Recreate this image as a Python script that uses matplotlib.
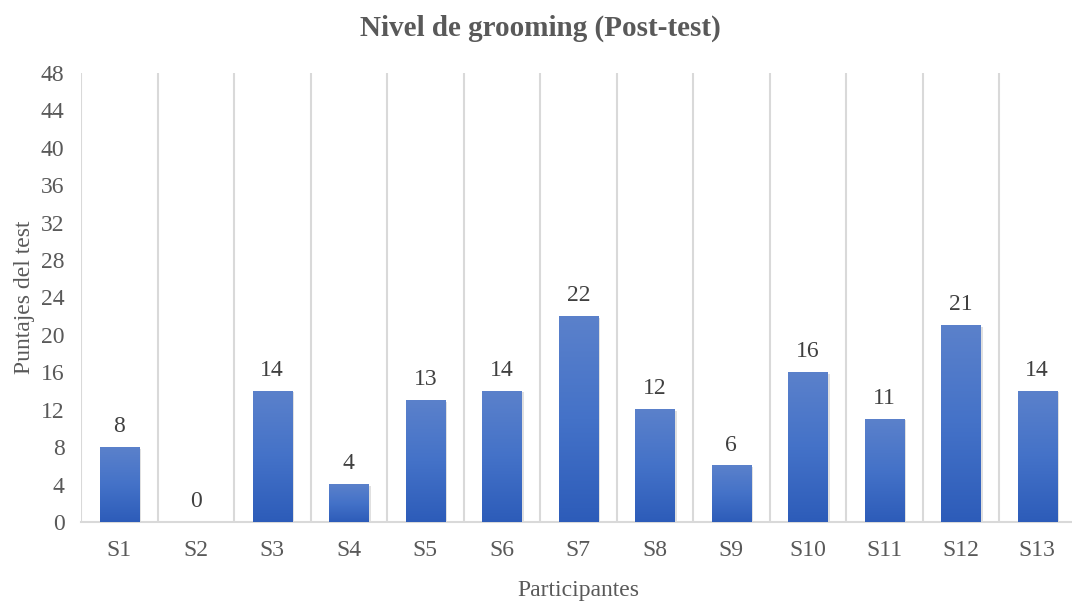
import numpy as np
import matplotlib.pyplot as plt
from matplotlib.colors import LinearSegmentedColormap

participantes = ["S1", "S2", "S3", "S4", "S5", "S6", "S7", "S8", "S9", "S10", "S11", "S12", "S13"]
puntajes = [8, 0, 14, 4, 13, 14, 22, 12, 6, 16, 11, 21, 14]
yticks = list(range(0, 49, 4))

plt.rcParams['font.family'] = ['Liberation Serif', 'DejaVu Serif']

fig = plt.figure(figsize=(10.72, 6.01), dpi=100)
ax = fig.add_axes([0.0756, 0.1315, 0.9277, 0.747])

x = np.arange(len(participantes))
bars = ax.bar(x, puntajes, width=0.51, color='none', zorder=3)

# gradient fill for each bar (lighter top, darker bottom)
cmap = LinearSegmentedColormap.from_list('azul', ['#2d5cb9', '#4472c8', '#5b81cb'])
grad = np.linspace(0, 1, 256).reshape(-1, 1)
for b in bars:
    h = b.get_height()
    if h <= 0:
        continue
    x0 = b.get_x()
    w = b.get_width()
    # soft shadow
    ax.bar(x0 + w / 2 + 0.02, h, width=w + 0.03, bottom=-0.15, color='#000000',
           alpha=0.12, zorder=2, linewidth=0)
    ax.imshow(grad, extent=[x0, x0 + w, 0, h], origin='lower', cmap=cmap,
              aspect='auto', zorder=3)

for xi, v in zip(x, puntajes):
    ax.text(xi, v + 1.1, str(v), ha='center', va='bottom', fontsize=17,
            color='#404040', zorder=4)

ax.set_xlim(-0.5, len(participantes) - 0.5)
ax.set_ylim(0, 48)
ax.set_yticks(yticks)
ax.set_xticks(x)
ax.set_xticklabels(participantes)
ax.tick_params(axis='both', length=0, labelsize=17, labelcolor='#595959')
ax.tick_params(axis='x', pad=13)
ax.tick_params(axis='y', pad=12)

# vertical gridlines at category boundaries
for bx in np.arange(-0.5, len(participantes), 1.0):
    ax.axvline(bx, color='#d9d9d9', linewidth=1.5, zorder=1)

for s in ['top', 'right', 'left']:
    ax.spines[s].set_visible(False)
ax.spines['bottom'].set_color('#d9d9d9')
ax.spines['bottom'].set_linewidth(1.5)

fig.text(0.504, 0.953, 'Nivel de grooming (Post-test)', fontsize=21, fontweight='bold',
         color='#595959', ha='center', va='center')
ax.set_xlabel('Participantes', fontsize=17, color='#595959', labelpad=14)
ax.set_ylabel('Puntajes del test', fontsize=17, color='#595959', labelpad=4)

fig.savefig('out.png', dpi=100)
